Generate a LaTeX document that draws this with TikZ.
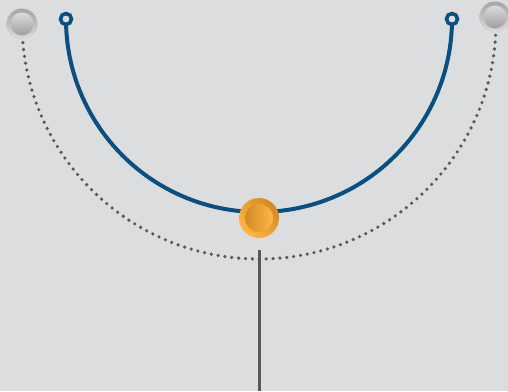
\documentclass[tikz,border=0pt]{standalone}
\usetikzlibrary{shadings}
\definecolor{bggray}{RGB}{220,221,223}
\definecolor{trackblue}{RGB}{10,79,128}
\definecolor{dotgray}{RGB}{88,88,90}
\definecolor{ballorange}{RGB}{242,169,59}
\definecolor{balldark}{RGB}{212,138,34}
\definecolor{balllight}{RGB}{253,182,72}
\begin{document}
\begin{tikzpicture}[x=1pt, y=-1pt,
  endring/.style={circle, draw=trackblue, line width=3.6pt, fill=bggray, minimum size=11pt, inner sep=0pt},
  greyball/.style={circle, minimum size=31pt, inner sep=0pt, top color=black!35, bottom color=black!14},
  greycore/.style={circle, minimum size=23pt, inner sep=0pt, top color=black!14, bottom color=black!38}]
\fill[bggray] (0,0) rectangle (508,391);
\useasboundingbox (0,0) rectangle (508,391);
% dotted outer track
\coordinate (outerleft) at (22,22);
\draw[dotgray, line width=3.6pt, line cap=round, dash pattern=on 0pt off 6.9pt] (outerleft) arc[start angle=180, end angle=0, radius=237];
% blue inner track
\coordinate (innerleft) at (66,19);
\draw[trackblue, line width=4pt] (innerleft) arc[start angle=180, end angle=0, radius=193];
\node[endring] (lring) at (66,19) {};
\node[endring] (rring) at (452,19) {};
% stem
\coordinate (stemtop) at (259,250);
\coordinate (stembot) at (259,391);
\draw[dotgray, line width=3pt] (stemtop) -- (stembot);
% grey balls
\node[greyball] (lball) at (22,24) {};
\node[greycore] at (lball) {};
\node[greyball] (rball) at (495,17) {};
\node[greycore] at (rball) {};
% orange ball
\node[circle, minimum size=40pt, inner sep=0pt, shading=axis, left color=balllight, right color=balldark, shading angle=135] (knob) at (259,218) {};
\node[circle, minimum size=28pt, inner sep=0pt, left color=balldark, right color=balllight] at (knob) {};
% \draw[red] (259,19) circle[radius=193];
\end{tikzpicture}
\end{document}
